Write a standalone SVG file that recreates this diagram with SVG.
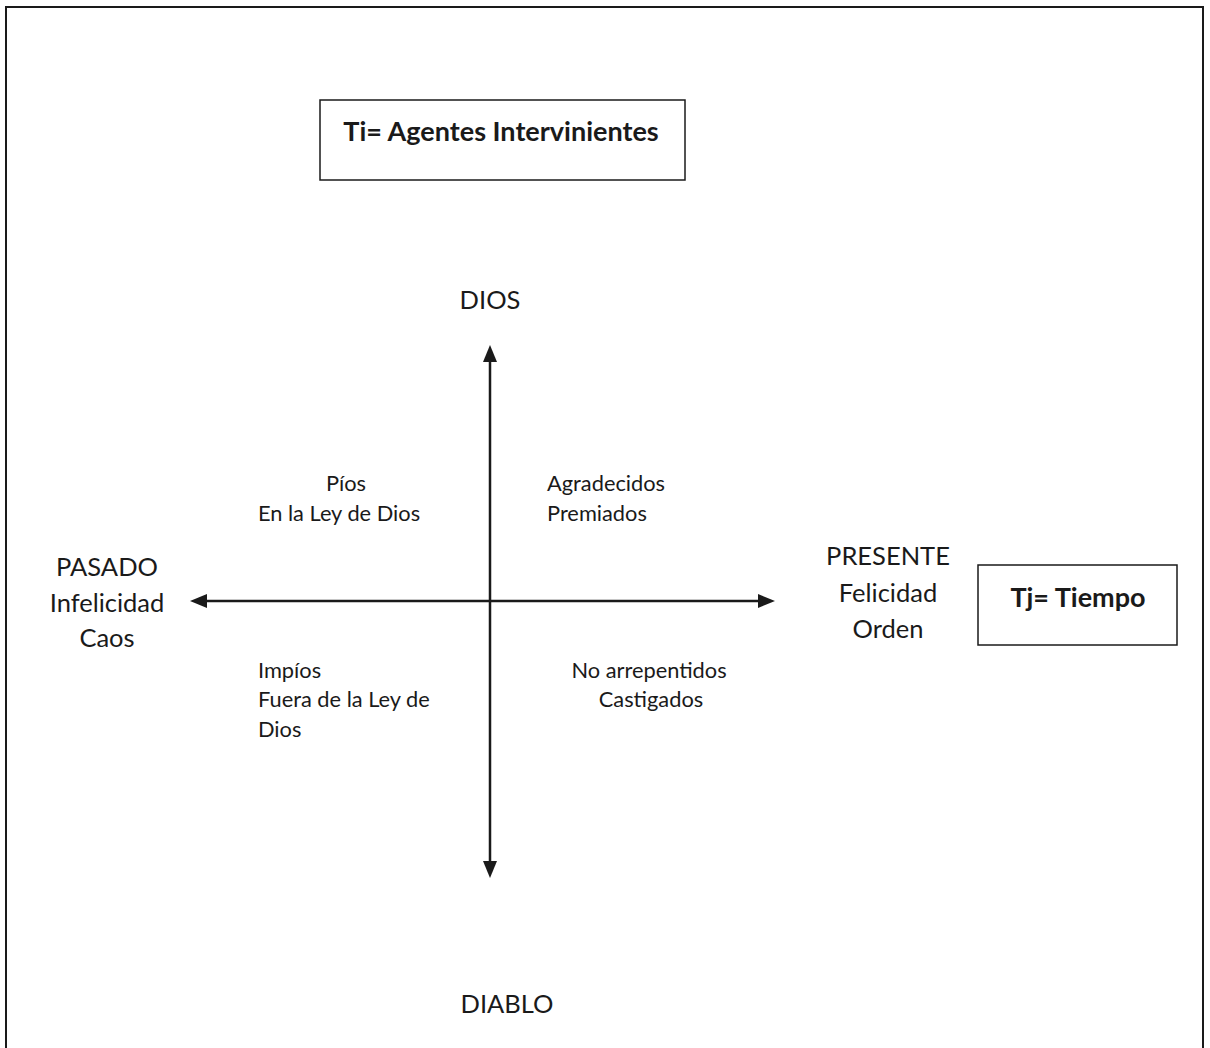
<svg xmlns="http://www.w3.org/2000/svg" width="1210" height="1048" viewBox="0 0 1210 1048">
<style>
text{font-family:Lato,"Open Sans","Liberation Sans",sans-serif;fill:#1a1a1a}
.big{font-size:25.5px}
.sm{font-size:21.8px}
.b{font-size:27px;font-weight:bold}
.box{fill:#fff;stroke:#1a1a1a;stroke-width:1.5}
.ax{stroke:#1a1a1a;stroke-width:2.5;fill:none}
.head{fill:#1a1a1a}
</style>
<rect x="0" y="0" width="1210" height="1048" fill="#fff"/>
<rect x="6" y="7" width="1197" height="1060" fill="none" stroke="#1a1a1a" stroke-width="2"/>
<g id="connectors">
<line class="ax" x1="490" y1="350" x2="490" y2="873"/>
<line class="ax" x1="195" y1="601" x2="770" y2="601"/>
<polygon class="head" points="490,345 483,362 497,362"/>
<polygon class="head" points="490,878 483,861 497,861"/>
<polygon class="head" points="190,601 207,594 207,608"/>
<polygon class="head" points="775,601 758,594 758,608"/>
</g>
<g id="ti">
<rect class="box" x="320" y="100" width="365" height="80"/>
<text class="b" x="501" y="141" text-anchor="middle">Ti= Agentes Intervinientes</text>
</g>
<g id="tj">
<rect class="box" x="978" y="565" width="199" height="80"/>
<text class="b" x="1078" y="607" text-anchor="middle">Tj= Tiempo</text>
</g>
<g id="dios"><text class="big" x="490" y="309" text-anchor="middle">DIOS</text></g>
<g id="diablo"><text class="big" x="507" y="1013" text-anchor="middle">DIABLO</text></g>
<g id="pasado">
<text class="big" x="107" y="576" text-anchor="middle">PASADO</text>
<text class="big" x="107" y="612" text-anchor="middle">Infelicidad</text>
<text class="big" x="107" y="647" text-anchor="middle">Caos</text>
</g>
<g id="presente">
<text class="big" x="888" y="565" text-anchor="middle">PRESENTE</text>
<text class="big" x="888" y="602" text-anchor="middle">Felicidad</text>
<text class="big" x="888" y="638" text-anchor="middle">Orden</text>
</g>
<g id="q1">
<text class="sm" x="346" y="491" text-anchor="middle">Píos</text>
<text class="sm" x="339" y="521" text-anchor="middle">En la Ley de Dios</text>
</g>
<g id="q2">
<text class="sm" x="547" y="491">Agradecidos</text>
<text class="sm" x="547" y="521">Premiados</text>
</g>
<g id="q3">
<text class="sm" x="258" y="678">Impíos</text>
<text class="sm" x="258" y="707">Fuera de la Ley de</text>
<text class="sm" x="258" y="737">Dios</text>
</g>
<g id="q4">
<text class="sm" x="649" y="678" text-anchor="middle">No arrepentidos</text>
<text class="sm" x="651" y="707" text-anchor="middle">Castigados</text>
</g>
</svg>
